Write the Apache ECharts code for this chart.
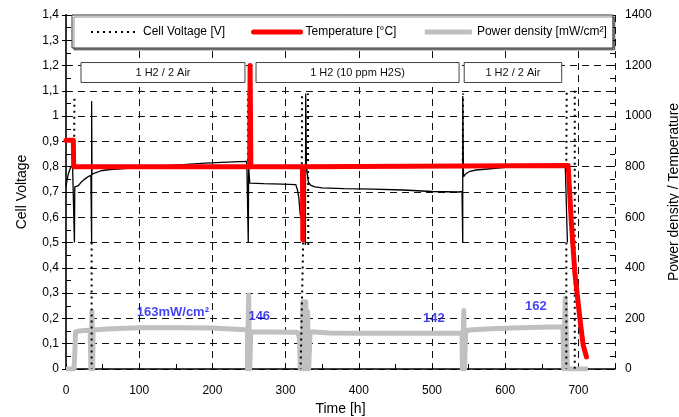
<!DOCTYPE html>
<html>
<head>
<meta charset="utf-8">
<script src="https://cdn.jsdelivr.net/npm/echarts@6/dist/echarts.min.js"></script>
<style>html,body{margin:0;padding:0;background:#fff;overflow:hidden}#c{width:679px;height:417px}</style>
</head>
<body>
<div id="c"></div>
<script>
// ---- data (time [h], value) ----
const voltageTrace = [
  [0,0.72],[1,0.74],[3,0.77],[6,0.795],[9,0.805],[11,0.81],[11.5,0.5],[12,0.72],[14,0.715],[17,0.725],
  [21,0.74],[26,0.752],[31,0.762],[34,0.766],[35,0.5],[35,1.06],[35.5,0.77],[40,0.776],[48,0.784],
  [60,0.789],[80,0.793],[100,0.797],[130,0.803],[160,0.808],[190,0.814],[220,0.818],[247,0.821],
  [248.5,0.822],[249,0.5],[249.5,0.8],[251,0.735],[270,0.733],[295,0.731],[314,0.729],[316,0.71],
  [318,0.68],[320,0.61],[322,0.6],[326,0.6],[327,0.49],[327.5,1.09],[328.5,0.8],[331,0.74],[334,0.727],
  [340,0.72],[350,0.716],[380,0.713],[420,0.711],[460,0.708],[500,0.702],[537,0.70],[541,0.702],
  [542,0.5],[542,1.08],[543,0.76],[546,0.772],[552,0.782],[560,0.787],[576,0.791],[600,0.797],
  [630,0.803],[660,0.808],[682,0.81],[684.5,0.81],[685,0.5]
];
const voltageDotted = [
  [11,0.8],[11.5,1.07],'-',
  [35,0.5],[35,0],'-',
  [248.5,0.8],[248.5,1.09],'-',
  [322,0.62],[322.5,1.09],'-',
  [331,0.49],[330.5,1.09],'-',
  [324,0.5],[320.5,0],'-',
  [542,0.8],[542.5,1.09],'-',
  [683.5,0.8],[684,1.1],'-',
  [683.5,0.5],[683.5,0],'-',
  [695,1.1],[695,0]
];
const temperature = [
  [0,905],[10,905],[10.5,800],[251,800],[251.5,1200],[252.5,800],[323,800],[323.5,510],[324.5,800],
  [686,805],[690,596],[695,385],[702,200],[706.5,95],[711,48]
];
const powerDensity = [
  [0,0],[11,0],[12,60],[13,147],[18,150],[26,152],[33,154],[34,154],[34,0],[35,0],[35.5,227],[36.5,0],
  [37,154],[55,158],[101,163],[160,163],[200,162],[245,155],[248,155],[248,0],[249.5,293],[251,0],
  [252,0],[252.5,147],[280,146],[316,145],[319,125],[320,120],[320,0],[323,0],[323.5,266],[324.5,266],
  [325,0],[327,0],[327.5,266],[328.5,0],[330,227],[331,227],[331.5,0],[333,0],[333.5,147],[360,142],
  [400,141],[500,141],[541,141],[541.5,0],[543,0],[543.5,231],[544.5,0],[545.5,0],[546,150],[551,154],
  [580,159],[620,163],[660,166],[679,167],[680,167],[680,0],[682,280],[684,275],[685,0],[686,0],[713,0]
];
const phaseLabels = ['1 H2 / 2 Air', '1 H2 (10 ppm H2S)', '1 H2 / 2 Air'];
const phaseStart = [20.5, 259.6, 544];
const phaseEnd = [244.5, 537, 677.2];
const phaseBoxTop = 1.212, phaseBoxBottom = 1.133;
const powerNotes = ['163mW/cm²', '146', '142', '162'];
const powerNoteAt = [[146,225],[264,208],[502.5,201],[642,247]];
const seriesNames = ['Cell Voltage [V]', 'Temperature [°C]', 'Power density [mW/cm²]'];

const FONT = "'Liberation Sans', Arial, sans-serif";
const dash = [7,5];

const chart = echarts.init(document.getElementById('c'), null, {renderer:'canvas', width:679, height:417});
chart.setOption({
  animation: false,
  textStyle: {fontFamily: FONT, color:'#000'},
  grid: {left: 66, right: 64, top: 15, bottom: 48, containLabel: false, outerBoundsMode: 'none'},
  legend: {
    data: [
      {name: seriesNames[0]},
      {name: seriesNames[1], lineStyle: {width: 5}},
      {name: seriesNames[2], lineStyle: {width: 5}}
    ],
    left: 72, top: 15, padding: [11, 6, 10, 18], itemGap: 26,
    itemWidth: 47, itemHeight: 10, borderColor: '#333', borderWidth: 1, backgroundColor: '#fff',
    shadowColor: 'rgba(0,0,0,0.45)', shadowOffsetX: 2, shadowOffsetY: 2, shadowBlur: 0,
    itemStyle: {opacity: 0, borderWidth: 0},
    textStyle: {fontSize: 12, fontFamily: FONT, color:'#000'}
  },
  xAxis: [{
    type:'value', min:0, max:750, interval:50,
    name:'Time [h]', nameLocation:'middle', nameGap:29,
    nameTextStyle:{fontSize:14, fontFamily: FONT, color:'#000'},
    axisLine:{lineStyle:{color:'#000', width:1.5}},
    axisTick:{inside:true, length:5, lineStyle:{color:'#000'}},
    axisLabel:{margin:16, fontSize:12, color:'#000', fontFamily: FONT,
      formatter: v => (v % 100 === 0 && v <= 700) ? String(v) : ''},
    splitLine:{show:false}
  },{
    type:'value', min:0, max:750, interval:100, position:'top',
    axisLine:{show:false}, axisTick:{show:false}, axisLabel:{show:false},
    splitLine:{show:true, lineStyle:{color:'#111', width:1, type:dash}}
  }],
  yAxis: [{
    type:'value', min:0, max:1.4, interval:0.1, position:'left',
    name:'Cell Voltage', nameLocation:'middle', nameGap:37,
    nameTextStyle:{fontSize:14, fontFamily: FONT, color:'#000'},
    axisLine:{show:true, lineStyle:{color:'#000', width:1.5}},
    axisTick:{show:true, length:4, lineStyle:{color:'#000'}},
    axisLabel:{margin:7, fontSize:12, color:'#000', fontFamily: FONT,
      formatter: v => String(Number(v.toFixed(1))).replace('.', ',')},
    splitLine:{show:true, lineStyle:{color:'#111', width:1, type:dash}}
  },{
    type:'value', min:0, max:1400, interval:200, position:'right',
    name:'Power density / Temperature', nameLocation:'middle', nameGap:52, nameRotate:90,
    nameTextStyle:{fontSize:14, fontFamily: FONT, color:'#000'},
    axisLine:{show:true, lineStyle:{color:'#333', width:2}},
    axisTick:{show:true, length:5, lineStyle:{color:'#000'}},
    minorTick:{show:true, splitNumber:4, length:5, lineStyle:{color:'#000'}},
    axisLabel:{margin:10, fontSize:12, color:'#000', fontFamily: FONT, formatter: v => String(v)},
    splitLine:{show:false}
  },{
    type:'value', min:0, max:1400, interval:200, position:'right',
    axisLine:{show:false},
    axisTick:{show:true, inside:true, length:5, lineStyle:{color:'#000'}},
    minorTick:{show:true, splitNumber:4, length:5, lineStyle:{color:'#000'}},
    axisLabel:{show:false}, splitLine:{show:false}
  }],
  series: [
    {
      name: seriesNames[2], type:'line', xAxisIndex:0, yAxisIndex:1, data: powerDensity,
      showSymbol:false, symbol:'none', z:2,
      lineStyle:{color:'#c0c0c0', width:5, join:'round'}, itemStyle:{color:'#c0c0c0'}
    },
    {
      name: 'trace', type:'line', xAxisIndex:0, yAxisIndex:0, data: voltageTrace,
      showSymbol:false, symbol:'none', z:3, connectNulls:false,
      lineStyle:{color:'#000', width:1.3}, itemStyle:{color:'#000'},
      markArea: {
        silent:true,
        itemStyle:{color:'#fff', borderColor:'#444', borderWidth:1, opacity:1},
        label:{show:true, position:'inside', color:'#111', fontSize:11, fontFamily: FONT},
        data: phaseLabels.map((n,i) => [
          {name:n, coord:[phaseStart[i], phaseBoxTop]},
          {coord:[phaseEnd[i], phaseBoxBottom]}
        ])
      }
    },
    {
      name: seriesNames[0], type:'line', xAxisIndex:0, yAxisIndex:0, data: voltageDotted,
      showSymbol:false, symbol:'none', z:3, connectNulls:false,
      lineStyle:{color:'#000', width:2, type:[2,4]}, itemStyle:{color:'#000'}
    },
    {
      name: seriesNames[1], type:'line', xAxisIndex:0, yAxisIndex:1, data: temperature,
      showSymbol:false, symbol:'none', z:4,
      lineStyle:{color:'#ff0000', width:5, cap:'round', join:'round'}, itemStyle:{color:'#ff0000'}
    },
    {
      name: 'notes', type:'scatter', xAxisIndex:0, yAxisIndex:1, symbolSize:0, z:6, silent:true,
      itemStyle:{color:'#1414f0'},
      data: powerNotes.map((n,i) => ({name:n, value: powerNoteAt[i]})),
      label:{show:true, position:'inside', formatter: p => p.name, textBorderWidth:0,
        color:'#1414f0', fontWeight:'bold', fontSize:13, fontFamily: FONT}
    }
  ]
});
</script>
</body>
</html>
